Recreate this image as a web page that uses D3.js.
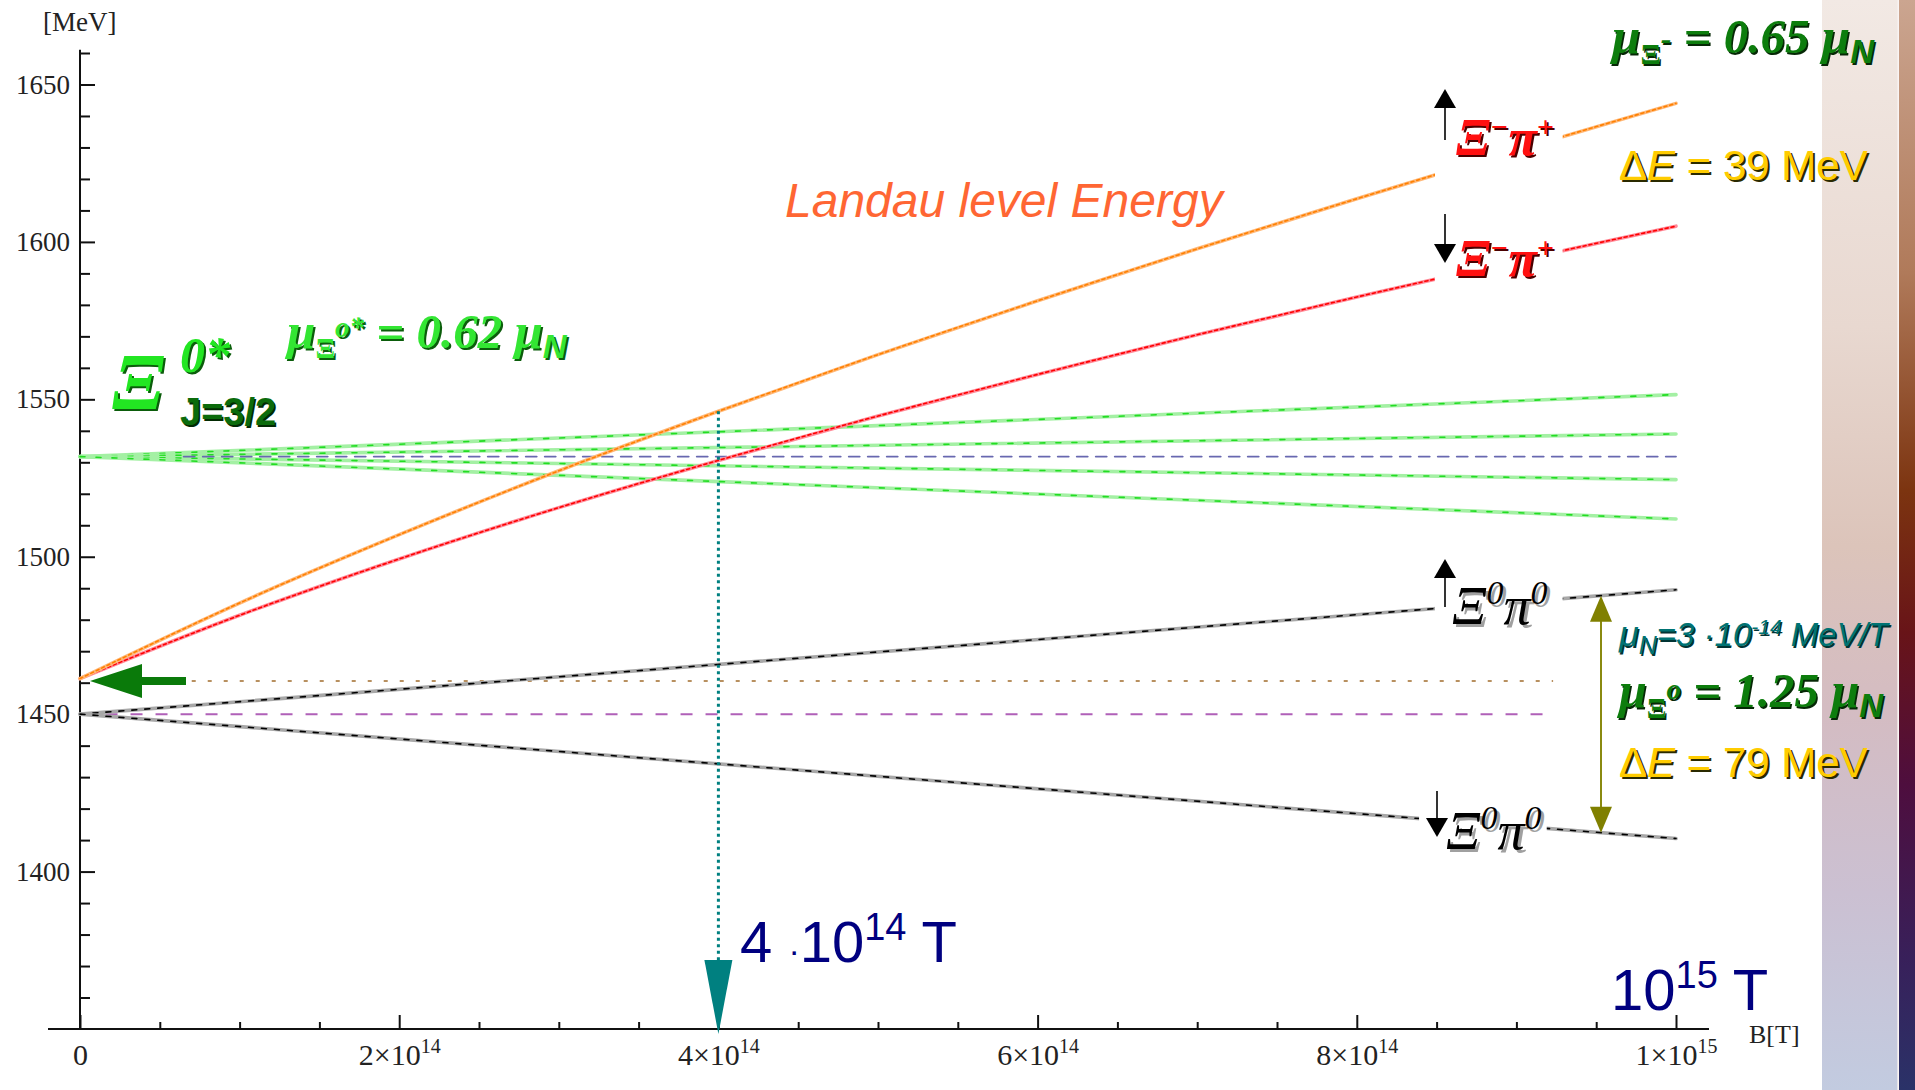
<!DOCTYPE html>
<html>
<head>
<meta charset="utf-8">
<script src="https://cdn.jsdelivr.net/npm/d3@7"></script>
<style>
  html, body { margin: 0; padding: 0; background: #fff; overflow: hidden; }
  svg { display: block; }
</style>
</head>
<body>
<svg id="chart" width="1915" height="1090"></svg>
<script>
// ---- Data: magnetic field B [T] and energy levels [MeV] ----
const fieldB = [0, 1e14, 2e14, 3e14, 4e14, 5e14, 6e14, 7e14, 8e14, 9e14, 1e15];
// Xi- pi+ threshold with Landau levels, spin up / spin down
const xiMinusPiPlusUp   = [1461.3, 1485.3, 1507.0, 1527.3, 1546.2, 1564.2, 1581.3, 1597.8, 1613.7, 1629.1, 1644.0];
const xiMinusPiPlusDown = [1461.3, 1481.4, 1499.3, 1515.6, 1530.6, 1544.7, 1557.9, 1570.5, 1582.5, 1594.0, 1605.0];
// straight Zeeman levels: values at B = 0 and B = 1e15 T
const lineEndsB = [0, 1e15];
const xiStarUp3  = [1531.8, 1551.5];
const xiStarUp1  = [1531.8, 1539.0];
const xiStarDn1  = [1531.8, 1524.5];
const xiStarDn3  = [1531.8, 1512.0];
const xi0Pi0Up   = [1450.0, 1489.5];
const xi0Pi0Down = [1450.0, 1410.5];
// reference thresholds at B = 0
const xiStarMass = 1531.8;
const xiMinusPiPlusMass = 1460.5;
const xi0Pi0Mass = 1450.0;
// marked field values
const markedField = 4e14;
const splitField = 9.53e14;
// axis ticks
const yMajorTicks = [1400, 1450, 1500, 1550, 1600, 1650];
const yMinorTicks = d3.range(1360, 1661, 10).filter(v => v % 50 !== 0);
const xMajorTicks = [0, 2e14, 4e14, 6e14, 8e14, 1e15];
const xMinorTicks = d3.range(0.5e14, 1e15, 0.5e14).filter((v, i) => (i + 1) % 4 !== 0);
const xTickMantissa = ["0", "2×10", "4×10", "6×10", "8×10", "1×10"];
const xTickExponent = ["", "14", "14", "14", "14", "15"];

const svg = d3.select("#chart");
const SERIF = "'Liberation Serif', 'Times New Roman', serif";
const SANS = "'Liberation Sans', Arial, sans-serif";

const x = d3.scaleLinear().domain([0, 1e15]).range([80, 1676]);
const y = d3.scaleLinear().domain([1350, 1660]).range([1029, 53]);

// ---- decorative side band ----
const defs = svg.append("defs");
const gLight = defs.append("linearGradient").attr("id", "bandLight").attr("x1", 0).attr("y1", 0).attr("x2", 0).attr("y2", 1);
[[0, "#f2e9e4"], [0.3, "#e8d8d0"], [0.5, "#dcc4ba"], [0.65, "#d4bcc2"], [0.82, "#cbc0d2"], [1, "#c2cbe0"]]
  .forEach(([o, c]) => gLight.append("stop").attr("offset", o).attr("stop-color", c));
const gDark = defs.append("linearGradient").attr("id", "bandDark").attr("x1", 0).attr("y1", 0).attr("x2", 0).attr("y2", 1);
[[0, "#cba590"], [0.25, "#b07a5a"], [0.45, "#7c3410"], [0.58, "#681418"], [0.72, "#4e0e3e"], [0.88, "#38205a"], [1, "#2a3268"]]
  .forEach(([o, c]) => gDark.append("stop").attr("offset", o).attr("stop-color", c));
svg.append("rect").attr("x", 1822).attr("y", 0).attr("width", 76).attr("height", 1090).attr("fill", "url(#bandLight)");
svg.append("rect").attr("x", 1897).attr("y", 0).attr("width", 2).attr("height", 1090).attr("fill", "#f6f0ee").attr("opacity", 0.7);
svg.append("rect").attr("x", 1899).attr("y", 0).attr("width", 16).attr("height", 1090).attr("fill", "url(#bandDark)");

// ---- axes ----
const axes = svg.append("g").attr("stroke-linecap", "butt");
const yMajor = axes.append("g").attr("transform", `translate(${x(0)},0)`)
  .call(d3.axisLeft(y).tickValues(yMajorTicks).tickSize(-15).tickPadding(10).tickFormat(d3.format("d")));
const yMinor = axes.append("g").attr("transform", `translate(${x(0)},0)`)
  .call(d3.axisLeft(y).tickValues(yMinorTicks).tickSize(-10).tickFormat(""));
const xMajor = axes.append("g").attr("transform", `translate(0,${y(1350)})`)
  .call(d3.axisBottom(x).tickValues(xMajorTicks).tickSize(-14).tickFormat(""));
const xMinor = axes.append("g").attr("transform", `translate(0,${y(1350)})`)
  .call(d3.axisBottom(x).tickValues(xMinorTicks).tickSize(-7).tickFormat(""));
[yMajor, yMinor, xMajor, xMinor].forEach(g => {
  g.select(".domain").remove();
  g.selectAll(".tick line").attr("stroke", "#111").attr("stroke-width", 2);
});
yMajor.selectAll(".tick text").attr("font-family", SERIF).attr("font-size", 27).attr("fill", "#222");
xMajor.selectAll(".tick").each(function (d, i) {
  const t = d3.select(this).append("text").attr("y", 36).attr("text-anchor", "middle")
    .attr("font-family", SERIF).attr("font-size", 30).attr("fill", "#222");
  t.append("tspan").text(xTickMantissa[i]);
  if (xTickExponent[i]) t.append("tspan").attr("font-size", 20).attr("dy", -12).text(xTickExponent[i]);
});
axes.append("line").attr("x1", x(0)).attr("x2", x(0)).attr("y1", y(1661)).attr("y2", y(1350))
  .attr("stroke", "#111").attr("stroke-width", 2);
axes.append("line").attr("x1", x(0) - 32).attr("x2", x(1e15) + 33).attr("y1", y(1350)).attr("y2", y(1350))
  .attr("stroke", "#111").attr("stroke-width", 2);
svg.append("text").attr("x", 43).attr("y", 31).attr("font-family", SERIF).attr("font-size", 27).attr("fill", "#222").text("[MeV]");
svg.append("text").attr("x", 1749).attr("y", 1043).attr("font-family", SERIF).attr("font-size", 26).attr("fill", "#222").text("B[T]");

// ---- reference thresholds ----
const refs = svg.append("g").attr("fill", "none");
refs.append("line").attr("x1", x(0.16e14)).attr("x2", x(9.23e14)).attr("y1", y(xi0Pi0Mass)).attr("y2", y(xi0Pi0Mass))
  .attr("stroke", "#b060b8").attr("stroke-width", 2).attr("stroke-dasharray", "12,13");
refs.append("line").attr("x1", x(0.7e14)).attr("x2", x(9.23e14)).attr("y1", y(xiMinusPiPlusMass)).attr("y2", y(xiMinusPiPlusMass))
  .attr("stroke", "#b89060").attr("stroke-width", 2).attr("stroke-dasharray", "4,12");

// ---- energy levels ----
const pts = (bs, es) => bs.map((b, i) => ({ b, e: es[i] }));
const path = d3.line().x(d => x(d.b)).y(d => y(d.e)).curve(d3.curveMonotoneX);
const levels = svg.append("g").attr("fill", "none").attr("stroke-linecap", "round");
function drawLevel(data, base, core, dash) {
  levels.append("path").attr("d", path(data)).attr("stroke", base).attr("stroke-width", 3.6);
  levels.append("path").attr("d", path(data)).attr("stroke", core).attr("stroke-width", 1.6).attr("stroke-dasharray", dash);
}
[xiStarUp3, xiStarUp1, xiStarDn1, xiStarDn3].forEach(v => drawLevel(pts(lineEndsB, v), "#a4f0a4", "#22dd22", "5,11"));
levels.append("line").attr("x1", x(0.65e14)).attr("x2", x(1e15)).attr("y1", y(xiStarMass)).attr("y2", y(xiStarMass))
  .attr("stroke", "#6868b0").attr("stroke-width", 1.8).attr("stroke-dasharray", "11,8");
drawLevel(pts(lineEndsB, xi0Pi0Up), "#a8a8a8", "#000", "5,8");
drawLevel(pts(lineEndsB, xi0Pi0Down), "#a8a8a8", "#000", "5,8");
drawLevel(pts(fieldB, xiMinusPiPlusDown), "#ff8a98", "#ff0000", "3,3");
drawLevel(pts(fieldB, xiMinusPiPlusUp), "#ffb878", "#ff8000", "3,3");

// gaps in the levels where the channel labels sit
const gaps = [
  [8.49e14, 9.29e14, 88, 192],
  [8.49e14, 9.29e14, 200, 296],
  [8.49e14, 9.29e14, 560, 640],
  [8.39e14, 9.19e14, 790, 860]
];
svg.append("g").selectAll("rect").data(gaps).join("rect")
  .attr("x", d => x(d[0])).attr("width", d => x(d[1]) - x(d[0]))
  .attr("y", d => d[2]).attr("height", d => d[3] - d[2]).attr("fill", "#fff");

// ---- annotations ----
const ann = svg.append("g");
// field marker at 4e14 T
const xm = x(markedField);
const eMark = xiMinusPiPlusUp[fieldB.indexOf(markedField)];
ann.append("line").attr("x1", xm).attr("x2", xm).attr("y1", y(eMark)).attr("y2", y(1350) - 68)
  .attr("stroke", "#008080").attr("stroke-width", 3).attr("stroke-dasharray", "3,3.5");
ann.append("path").attr("d", `M${xm - 14},${y(1350) - 69}L${xm + 14},${y(1350) - 69}L${xm},${y(1350) + 5}Z`).attr("fill", "#008080");

// threshold arrow at B = 0
const ya = y(xiMinusPiPlusMass), xa = x(0) + 10;
ann.append("path")
  .attr("d", `M${xa},${ya}L${xa + 52},${ya - 17}L${xa + 52},${ya - 4}L${xa + 96},${ya - 4}L${xa + 96},${ya + 4}L${xa + 52},${ya + 4}L${xa + 52},${ya + 17}Z`)
  .attr("fill", "#0a7a0a");

// splitting of Xi0 pi0 at high field
const fS = splitField / 1e15;
const yTop = y(d3.interpolateNumber(xi0Pi0Up[0], xi0Pi0Up[1])(fS));
const yBot = y(d3.interpolateNumber(xi0Pi0Down[0], xi0Pi0Down[1])(fS));
const xs = x(splitField);
ann.append("line").attr("x1", xs).attr("x2", xs).attr("y1", yTop + 20).attr("y2", yBot - 20).attr("stroke", "#8a8a10").attr("stroke-width", 2);
ann.append("path").attr("d", `M${xs},${yTop}L${xs + 11},${yTop + 26}L${xs - 11},${yTop + 26}Z`).attr("fill", "#808000");
ann.append("path").attr("d", `M${xs},${yBot}L${xs + 11},${yBot - 26}L${xs - 11},${yBot - 26}Z`).attr("fill", "#808000");

// spin arrows next to channel labels
function spinArrow(xp, yFrom, yTip) {
  const dir = yTip < yFrom ? 1 : -1;
  ann.append("line").attr("x1", xp).attr("x2", xp).attr("y1", yFrom).attr("y2", yTip + dir * 16).attr("stroke", "#000").attr("stroke-width", 1.6);
  ann.append("path").attr("d", `M${xp},${yTip}L${xp + 11},${yTip + dir * 19}L${xp - 11},${yTip + dir * 19}Z`).attr("fill", "#000");
}
spinArrow(1445, 140, 89);
spinArrow(1445, 214, 263);
spinArrow(1445, 607, 559);
spinArrow(1437, 791, 837);

// ---- text helper with optional drop shadow ----
function rich(xp, yp, parts, fill, shadow, dx = 2, dy = 2) {
  const layers = shadow ? [[shadow, dx, dy], [fill, 0, 0]] : [[fill, 0, 0]];
  layers.forEach(([c, ox, oy]) => {
    const t = svg.append("text").attr("x", xp + ox).attr("y", yp + oy).attr("fill", c).attr("xml:space", "preserve");
    let prev = 0;
    parts.forEach(p => {
      const sh = p.shift || 0;
      t.append("tspan").attr("dy", sh - prev)
        .attr("font-family", p.family || SERIF).attr("font-size", p.size)
        .attr("font-style", p.italic === false ? "normal" : "italic")
        .attr("font-weight", p.bold ? "bold" : "normal").text(p.t);
      prev = sh;
    });
  });
}

svg.append("text").attr("x", 785).attr("y", 217).attr("font-family", SANS).attr("font-style", "italic")
  .attr("font-size", 48).attr("fill", "#ff6633").text("Landau level Energy");

// Xi(1530)0 block
rich(112, 409, [{ t: "Ξ", size: 80, bold: true }], "#22e622", "#0b5d0b", 2, 2);
rich(180, 372, [{ t: "0*", size: 50, bold: true }], "#22e622", "#0b5d0b", 2, 2);
rich(180, 425, [{ t: "J=3/2", size: 38, bold: true, italic: false, family: SANS }], "#0b6b0b", "#022a02", 1.5, 1.5);
rich(287, 348, [
  { t: "μ", size: 51, bold: true },
  { t: "Ξ", size: 29, bold: true, italic: false, shift: 10 },
  { t: "o*", size: 29, bold: true, shift: -11 },
  { t: " = 0.62 ", size: 49, bold: true },
  { t: "μ", size: 51, bold: true },
  { t: "N", size: 33, bold: true, family: SANS, shift: 10 }
], "#33e633", "#0b5d0b", 2, 2);

// right-hand annotations
rich(1612, 53, [
  { t: "μ", size: 51, bold: true },
  { t: "Ξ", size: 30, bold: true, italic: false, shift: 11 },
  { t: "-", size: 32, bold: true, shift: -4 },
  { t: " = 0.65 ", size: 49, bold: true },
  { t: "μ", size: 51, bold: true },
  { t: "N", size: 33, bold: true, family: SANS, shift: 10 }
], "#0d7d0d", "#062806", 1.5, 1.5);
rich(1619, 180, [
  { t: "Δ", size: 42, italic: false, family: SANS },
  { t: "E", size: 42, family: SANS },
  { t: " = 39 MeV", size: 42, italic: false, family: SANS }
], "#ffcc00", "#2a2a00", 2, 2);
rich(1619, 646, [
  { t: "μ", size: 36, family: SANS },
  { t: "N", size: 25, family: SANS, shift: 8 },
  { t: "=3 ·10", size: 33, family: SANS },
  { t: "-14", size: 21, family: SANS, shift: -12 },
  { t: " MeV/T", size: 33, family: SANS }
], "#007373", "#013434", 1.5, 1.5);
rich(1619, 707, [
  { t: "μ", size: 50, bold: true },
  { t: "Ξ", size: 29, bold: true, italic: false, shift: 11 },
  { t: "o", size: 29, bold: true, shift: -8 },
  { t: " = 1.25 ", size: 49, bold: true },
  { t: "μ", size: 50, bold: true },
  { t: "N", size: 33, bold: true, family: SANS, shift: 10 }
], "#0d7d0d", "#062806", 1.5, 1.5);
rich(1619, 777, [
  { t: "Δ", size: 42, italic: false, family: SANS },
  { t: "E", size: 42, family: SANS },
  { t: " = 79 MeV", size: 42, italic: false, family: SANS }
], "#ffcc00", "#2a2a00", 2, 2);

// channel labels
const xiPiCharged = [
  { t: "Ξ", size: 52, bold: true },
  { t: "−", size: 30, bold: true, shift: -18 },
  { t: "π", size: 52, bold: true },
  { t: "+", size: 30, bold: true, shift: -18 }
];
rich(1456, 155, xiPiCharged, "#ff1010", "#4a0000", 2, 2);
rich(1456, 276, xiPiCharged, "#ff1010", "#4a0000", 2, 2);
const xiPiNeutral = [
  { t: "Ξ", size: 54 },
  { t: "0", size: 34, shift: -20 },
  { t: "π", size: 54 },
  { t: "0", size: 34, shift: -20 }
];
rich(1452, 624, xiPiNeutral, "#000", "#a0a0a0", 3, 3);
rich(1446, 849, xiPiNeutral, "#000", "#a0a0a0", 3, 3);

// field labels
rich(740, 962, [
  { t: "4 ", size: 58, italic: false, family: SANS },
  { t: "·", size: 34, italic: false, family: SANS },
  { t: "10", size: 58, italic: false, family: SANS },
  { t: "14", size: 38, italic: false, family: SANS, shift: -22 },
  { t: " T", size: 58, italic: false, family: SANS }
], "#000080");
rich(1611, 1010, [
  { t: "10", size: 58, italic: false, family: SANS },
  { t: "15", size: 38, italic: false, family: SANS, shift: -22 },
  { t: " T", size: 58, italic: false, family: SANS }
], "#000080");
</script>
</body>
</html>
